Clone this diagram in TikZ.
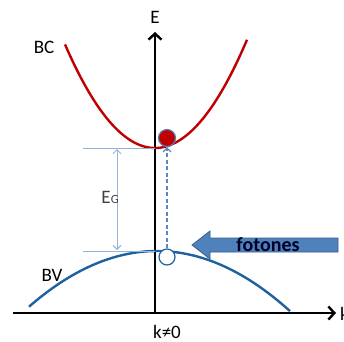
\documentclass[tikz,border=0pt]{standalone}
\usepackage{fontspec}
\setmainfont{Carlito}
\usetikzlibrary{arrows.meta}
\definecolor{bcred}{HTML}{C00000}
\definecolor{bvblue}{HTML}{1F60A0}
\definecolor{thinblue}{HTML}{95B3D7}
\definecolor{dashblue}{HTML}{5B87C0}
\definecolor{fotfill}{HTML}{4F81BD}
\definecolor{fotdraw}{HTML}{385D8A}
\definecolor{dotline}{HTML}{5A7DB5}
\tikzset{
  axis/.style={line width=2.4pt, black, -{Straight Barb[length=6pt,width=13pt,line width=2.4pt]}},
  band/.style={line width=2.4pt},
  thin/.style={line width=0.9pt, thinblue},
  lbl/.style={font=\fontsize{19}{20}\selectfont, inner sep=0pt},
}
\begin{document}
\begin{tikzpicture}[x=1pt,y=-1pt]
\useasboundingbox (0,0) rectangle (344,341);
% axes
\coordinate (kstart) at (13,313);
\coordinate (kend) at (336,313);
\coordinate (ebot) at (155,313);
\coordinate (etop) at (155,32);
\draw[axis] (kstart) -- (kend);
\draw[axis] (ebot) -- (etop);
% bands
\draw[band, bcred] plot[domain=65:247, samples=80] (\x, {148-(0.1131*(\x-155))^2});
\draw[band, bvblue] plot[domain=29:290, samples=80] (\x, {251+(0.0583*(\x-157))^2});
% gap markers
\coordinate (g1a) at (83,148);
\coordinate (g1b) at (155,148);
\coordinate (g2a) at (83,251);
\coordinate (g2b) at (155,251);
\coordinate (ga) at (117,149);
\coordinate (gb) at (117,250);
\draw[thin] (g1a) -- (g1b);
\draw[thin] (g2a) -- (g2b);
\draw[thin, {Straight Barb[length=4pt,width=8pt]}-{Straight Barb[length=4pt,width=8pt]}] (ga) -- (gb);
\node[lbl, text=black!75] (eg) at (110,197) {E\kern0.3pt{\fontsize{12.5}{13}\selectfont G}};
% electron and hole
\node[circle, minimum size=17pt, inner sep=0pt, fill=bcred, draw=dotline, line width=1.2pt] (el) at (167,138) {};
\node[circle, minimum size=16pt, inner sep=0pt, fill=white, draw=bvblue, line width=1.2pt] (ho) at (167,257) {};
\draw[line width=1.2pt, dashblue, dash pattern=on 4pt off 2.5pt, -{Straight Barb[length=4pt,width=8pt]}] (ho) -- (el);
% photon arrow
\draw[fill=fotfill, draw=fotdraw, line width=0.8pt]
  (192,245) -- (210,231) -- (210,238) -- (338,238) -- (338,252) -- (210,252) -- (210,259) -- cycle;
\node[font=\bfseries\fontsize{20}{21}\selectfont, text=black!85!blue, inner sep=0pt] (fot) at (268,245) {fotones};
% labels
\node[lbl] (elab) at (155,17) {E};
\node[lbl] (bc) at (44,47) {BC};
\node[lbl] (bv) at (52,275) {BV};
\node[lbl, anchor=base] (k0) at (167,338) {k≠0};
\node[lbl, anchor=base west] (k) at (340,320) {k};
\end{tikzpicture}
\end{document}
